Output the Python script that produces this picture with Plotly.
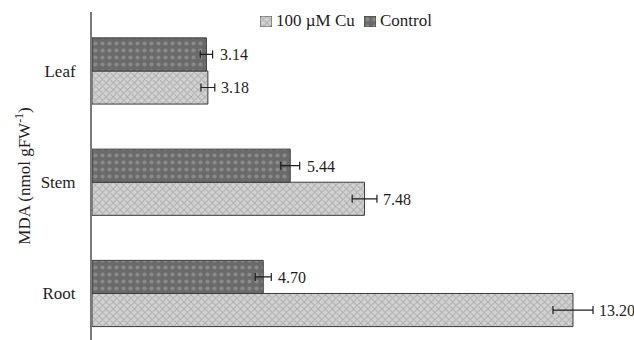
import plotly.graph_objects as go

# Tissue categories, listed bottom to top
tissues = ["Root", "Stem", "Leaf"]

# MDA content (nmol gFW-1) and standard errors
cu_values = [13.20, 7.48, 3.18]
cu_errors = [0.55, 0.34, 0.19]
control_values = [4.70, 5.44, 3.14]
control_errors = [0.22, 0.26, 0.17]

series_names = ["100 µM Cu", "Control"]

serif = "Liberation Serif, Times New Roman, serif"
ink = "#1e1e1e"

cu_marker = dict(
    color="#c8c8c8",
    line=dict(color="#3c3c3c", width=1),
    pattern=dict(shape="x", fgcolor="#858585", bgcolor="#d2d2d2", size=5, solidity=0.35),
)
control_marker = dict(
    color="#6c6c6c",
    line=dict(color="#3c3c3c", width=1),
    pattern=dict(shape=".", fgcolor="#aaaaaa", bgcolor="#6a6a6a", size=7, solidity=0.28),
)

fig = go.Figure()

fig.add_trace(go.Bar(
    name=series_names[0],
    y=tissues, x=cu_values, orientation="h",
    error_x=dict(type="data", array=cu_errors, color=ink, thickness=1.2, width=4),
    marker=cu_marker,
))

fig.add_trace(go.Bar(
    name=series_names[1],
    y=tissues, x=control_values, orientation="h",
    error_x=dict(type="data", array=control_errors, color=ink, thickness=1.2, width=4),
    marker=control_marker,
))

# Compact key: a small swatch axis per series with the label right next to it
key_boxes = [(0.318, 0.341), (0.515, 0.538)]
key_y = (0.954, 0.988)
for i, (marker, (x0, x1)) in enumerate(zip([cu_marker, control_marker], key_boxes), start=2):
    fig.add_trace(go.Bar(
        x=[0], y=[1], width=[1], marker=marker, showlegend=False, hoverinfo="skip",
        xaxis=f"x{i}", yaxis=f"y{i}",
    ))
    fig.layout[f"xaxis{i}"] = dict(domain=[x0, x1], anchor=f"y{i}", range=[-0.5, 0.5],
                                   visible=False, fixedrange=True)
    fig.layout[f"yaxis{i}"] = dict(domain=list(key_y), anchor=f"x{i}", range=[0, 1],
                                   visible=False, fixedrange=True)

annotations = []
for name, (x0, x1) in zip(series_names, key_boxes):
    annotations.append(dict(x=x1 + 0.004, y=0.9726, xref="paper", yref="paper", text=name,
                            xanchor="left", yanchor="middle", showarrow=False,
                            font=dict(family=serif, size=17, color=ink)))

# Value labels placed just past each error bar
for t, v, e in zip(tissues, cu_values, cu_errors):
    annotations.append(dict(x=v + e, y=t, text=f"{v:.2f}", xanchor="left", yanchor="middle",
                            xshift=4, yshift=-17, showarrow=False,
                            font=dict(family=serif, size=16, color=ink)))
for t, v, e in zip(tissues, control_values, control_errors):
    annotations.append(dict(x=v + e, y=t, text=f"{v:.2f}", xanchor="left", yanchor="middle",
                            xshift=5, yshift=16, showarrow=False,
                            font=dict(family=serif, size=16, color=ink)))

fig.update_layout(
    width=634, height=340,
    margin=dict(l=92, r=14, t=12, b=0),
    paper_bgcolor="white", plot_bgcolor="white",
    barmode="group", bargap=0.405, bargroupgap=0,
    font=dict(family=serif, size=17, color=ink),
    showlegend=False,
    xaxis=dict(range=[0, 14.49], visible=False, showgrid=False, zeroline=False),
    yaxis=dict(
        range=[-0.418, 2.53], showline=True, linecolor="#7a7a7a", linewidth=2,
        ticks="", showgrid=False, ticklabelstandoff=11,
        tickfont=dict(family=serif, size=17, color=ink),
        title=dict(text="MDA (nmol gFW<sup>-1</sup>)", font=dict(family=serif, size=17, color=ink),
                   standoff=6),
    ),
    annotations=annotations,
)

fig.write_html("out.html")
